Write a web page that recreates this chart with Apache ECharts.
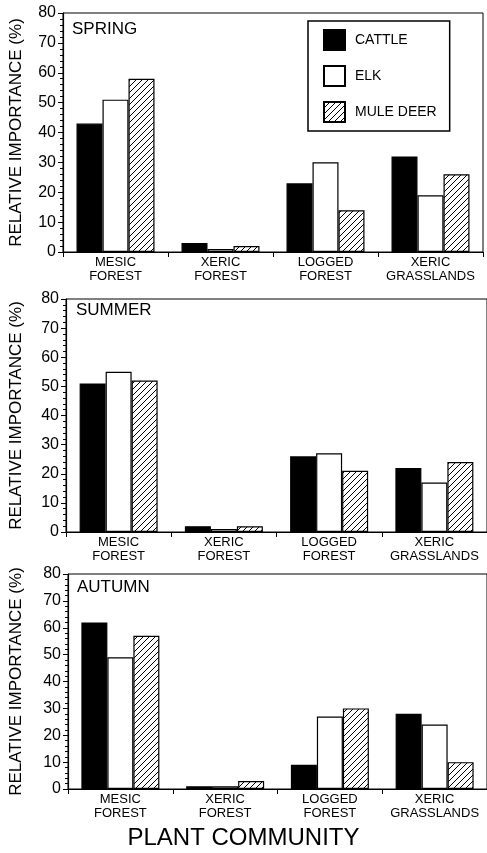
<!DOCTYPE html>
<html>
<head>
<meta charset="utf-8">
<script src="https://cdn.jsdelivr.net/npm/echarts@6/dist/echarts.min.js"></script>
<style>
html,body{margin:0;padding:0;background:#fff;}
#c{width:487px;height:853px;}
</style>
</head>
<body>
<div id="c"></div>
<script>
// ---- data ----
var categories = ['MESIC\nFOREST', 'XERIC\nFOREST', 'LOGGED\nFOREST', 'XERIC\nGRASSLANDS'];
var seriesNames = ['CATTLE', 'ELK', 'MULE DEER'];
var seasons = ['SPRING', 'SUMMER', 'AUTUMN'];
var springCattle = [43, 3, 23, 32];
var springElk = [51, 1, 30, 19];
var springMule = [58, 2, 14, 26];
var summerCattle = [51, 2, 26, 22];
var summerElk = [55, 1, 27, 17];
var summerMule = [52, 2, 21, 24];
var autumnCattle = [62, 1, 9, 28];
var autumnElk = [49, 1, 27, 24];
var autumnMule = [57, 3, 30, 10];
var yTicks = [0, 10, 20, 30, 40, 50, 60, 70, 80];

var seasonData = [
  [springCattle, springElk, springMule],
  [summerCattle, summerElk, summerMule],
  [autumnCattle, autumnElk, autumnMule]
];

// ---- hatch pattern ----
var s = 6;
var cv = document.createElement('canvas');
cv.width = s; cv.height = s;
var cx = cv.getContext('2d');
cx.fillStyle = '#fff'; cx.fillRect(0, 0, s, s);
cx.strokeStyle = '#000'; cx.lineWidth = 1;
cx.beginPath();
cx.moveTo(0, s); cx.lineTo(s, 0);
cx.moveTo(-1, 1); cx.lineTo(1, -1);
cx.moveTo(s - 1, s + 1); cx.lineTo(s + 1, s - 1);
cx.stroke();

var fills = ['#000', '#fff', {image: cv, repeat: 'repeat'}];
var FONT = '"Liberation Sans", Arial, Helvetica, sans-serif';

var grids = [
  {left: 62, top: 13, width: 421, height: 239},
  {left: 65, top: 299, width: 424, height: 233},
  {left: 67, top: 574, width: 424, height: 215}
];
var nameGaps = [38, 41, 43];
var seasonPos = [[72, 21], [76, 302], [77, 579]];

var option = {
  animation: false,
  backgroundColor: '#fff',
  textStyle: {fontFamily: FONT, color: '#000'},
  grid: grids.map(function (g) {
    return Object.assign({show: true, borderColor: '#000', borderWidth: 1, backgroundColor: 'transparent'}, g);
  }),
  xAxis: grids.map(function (g, i) {
    return {
      type: 'category', gridIndex: i, data: categories,
      axisLine: {lineStyle: {color: '#000', width: 1.2}},
      axisTick: {show: true, length: 5, lineStyle: {color: '#000'}},
      axisLabel: {color: '#000', fontFamily: FONT, fontSize: 13, lineHeight: 14, margin: 3, interval: 0}
    };
  }),
  yAxis: grids.map(function (g, i) {
    return {
      type: 'value', gridIndex: i, min: yTicks[0], max: yTicks[yTicks.length - 1], interval: 10,
      name: 'RELATIVE IMPORTANCE (%)', nameLocation: 'middle', nameGap: nameGaps[i],
      nameTextStyle: {fontFamily: FONT, fontSize: 17, color: '#000'},
      axisLine: {show: true, lineStyle: {color: '#000', width: 1.2}},
      axisTick: {show: true, length: 5, lineStyle: {color: '#000'}},
      minorTick: {show: true, splitNumber: 5, length: 3, lineStyle: {color: '#000'}},
      splitLine: {show: false},
      axisLabel: {color: '#000', fontFamily: FONT, fontSize: 16, margin: 7}
    };
  }),
  legend: {
    left: 308, top: 21, orient: 'vertical',
    data: seriesNames,
    itemWidth: 21, itemHeight: 20, itemGap: 14,
    padding: [8, 13, 8, 15],
    borderColor: '#000', borderWidth: 1.5,
    icon: 'rect',
    textStyle: {fontFamily: FONT, fontSize: 14, color: '#000', padding: [0, 0, 0, 5]}
  },
  graphic: seasons.map(function (t, i) {
    return {type: 'text', left: seasonPos[i][0], top: seasonPos[i][1],
      style: {text: t, font: '17px ' + FONT, fill: '#000'}};
  }).concat([{
    type: 'text', left: 'center', top: 826,
    style: {text: 'PLANT COMMUNITY', font: '24px ' + FONT, fill: '#000'}
  }]),
  series: []
};

for (var p = 0; p < 3; p++) {
  for (var k = 0; k < 3; k++) {
    option.series.push({
      type: 'bar', name: seriesNames[k], xAxisIndex: p, yAxisIndex: p,
      data: seasonData[p][k],
      barWidth: 26, barGap: '0%',
      itemStyle: {color: fills[k], borderColor: '#000', borderWidth: 1.2}
    });
  }
}

var chart = echarts.init(document.getElementById('c'), null, {renderer: 'canvas'});
chart.setOption(option);
</script>
</body>
</html>
